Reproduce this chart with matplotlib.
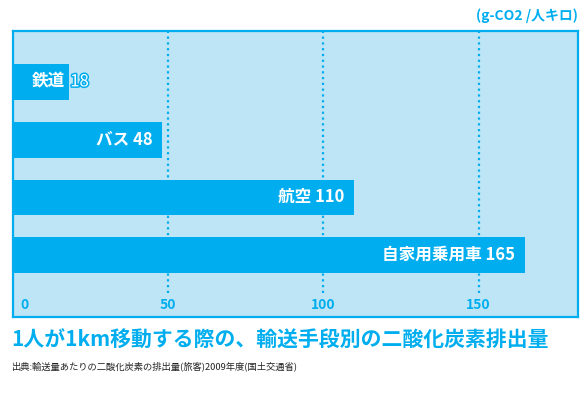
import matplotlib
matplotlib.use("Agg")
import matplotlib.pyplot as plt
import matplotlib.patheffects as pe

plt.rcParams['font.family'] = ['Noto Sans CJK JP', 'DejaVu Sans']

# data
modes = ["鉄道", "バス", "航空", "自家用乗用車"]
values = [18, 48, 110, 165]
ticks = [0, 50, 100, 150]
unit = "(g-CO2 /人キロ)"
title = "1人が1km移動する際の、輸送手段別の二酸化炭素排出量"
source = "出典:輸送量あたりの二酸化炭素の排出量(旅客)2009年度(国土交通省)"

blue = "#00aeef"
bg = "#bde5f6"

fig = plt.figure(figsize=(5.85, 3.98), dpi=100)
ax = fig.add_axes([0.0222, 0.2035, 0.9658, 0.7185])
ax.set_facecolor(bg)

y = list(range(len(modes)))
ax.barh(y, values, height=0.62, color=blue, zorder=2)

ax.set_xlim(0, 182)
ax.set_ylim(4.07, -0.88)

# dotted gridlines stop above the tick labels
for t in ticks[1:]:
    ax.axvline(t, ymin=0.085, ymax=1, color=blue, lw=1.6, ls=(0, (1, 1.6)), zorder=1)

for sp in ax.spines.values():
    sp.set_color(blue)
    sp.set_linewidth(1.6)
ax.set_xticks([])
ax.set_yticks([])

# tick labels inside frame
for t in ticks:
    if t == 0:
        ax.annotate(str(t), (t, 0.042), xycoords=ax.get_xaxis_transform(),
                    xytext=(5, 0), textcoords="offset points",
                    ha="left", va="center", color=blue, fontsize=10, fontweight="bold")
    else:
        ax.text(t, 0.042, str(t), transform=ax.get_xaxis_transform(),
                ha="center", va="center", color=blue, fontsize=10, fontweight="bold")

# bar labels
for i, (m, v) in enumerate(zip(modes, values)):
    if v < 30:
        ax.annotate(m, (v, i), xytext=(-3, 0), textcoords="offset points",
                    ha="right", va="center", color="white", fontsize=12, fontweight="bold", zorder=3)
        ax.annotate(str(v), (v, i), xytext=(1, 0), textcoords="offset points",
                    ha="left", va="center", color="white", fontsize=12, zorder=3,
                    path_effects=[pe.withStroke(linewidth=2.2, foreground=blue)])
    else:
        ax.annotate(m + " " + str(v), (v, i), xytext=(-7, 0), textcoords="offset points",
                    ha="right", va="center", color="white", fontsize=12, fontweight="bold", zorder=3)

fig.text(0.988, 0.96, unit, ha="right", va="center", color=blue, fontsize=10, fontweight="bold")
fig.text(0.02, 0.146, title, ha="left", va="center", color=blue, fontsize=15, fontweight="bold")
fig.text(0.02, 0.08, source, ha="left", va="center", color="#222222", fontsize=6.7)

fig.savefig("out.png", dpi=100)
